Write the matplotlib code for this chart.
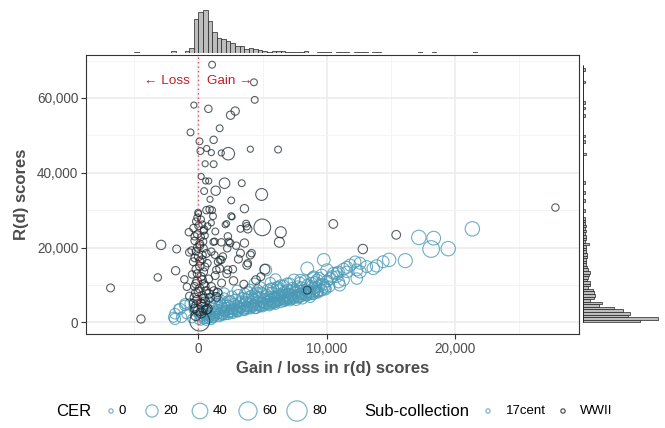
import numpy as np
import matplotlib
matplotlib.use("Agg")
import matplotlib.pyplot as plt
from matplotlib.ticker import FuncFormatter, MultipleLocator

plt.rcParams['font.family'] = ['Liberation Sans', 'DejaVu Sans']

# ---------------- data ----------------
# WWII points: gain/loss, R(d), CER
wwii_x = [1060, 4320, 4380, -360, 770, 2500, 2860, 1650, -620, 80, 1180, 640, 150, 1000, 2320,
          1780, 4040, 6200, 520, 1180, 210, 560, 800, 2030, 3370, 440, 1340, 4920, 900, 2550,
          3580, 0, 620, 870, 1060, 2620, 1130, 1000, 2080, 2190, 2550, -390, -750, 700, 3270,
          3760, 3840, 4970, 6410, 6300, 10500, 15400, -2910, -1700, -720, -540, 360, 1160, 1310, 2290,
          2370, 2930, 3580, 4140, 3780, 5170, 4860, -1780, -3170, -6850, -4480, 1670, 1390, 2730, 3530,
          4480, 8470, 12800, 27800,
          -200, 300, -100, 200, 500, -300, 100, 400, -200, 600, 0, 300, -400, 700, 100,
          -200, 400, -500, 200, 800, -100, 400, -300, 100, 600, -200, 300, 900, -100, 500,
          -400, 200, 1000, 1300, 1500, 1800, 2200, -900, -700, -1100,
          -30, 3710, 440, 1260, 2470, 1780, 2240, 3270, 4040, 3110, 1900, 1780, 1000, 1260, 1520,
          1650, 2290, 2680, 3840, 800, 1200, 600, 1400, -300, 300, 100,
          -100, 200, 0, 400, -300, 100, -100, 300, -300, 100, 500, -100, 300, -200, 500,
          0, 400, -300, 200, 0, 700, -200, 100]
wwii_y = [68900, 64200, 59500, 58100, 57100, 55400, 56500, 51900, 50800, 48400, 48800, 46500, 45800, 45400, 45100,
          45300, 46300, 46200, 42400, 42300, 39000, 37800, 37800, 37200, 37200, 35100, 35200, 34200, 32900, 32600,
          30400, 29100, 30000, 30200, 30000, 28200, 28400, 26600, 26100, 26400, 28400, 25200, 24100, 25700, 25000,
          25700, 25000, 25400, 24100, 21400, 26300, 23400, 20700, 19600, 18700, 19200, 21600, 21500, 24300, 23000,
          21600, 20500, 21200, 18500, 15300, 14200, 12200, 13800, 12000, 9200, 900, 16700, 14000, 11100, 10200,
          11300, 8600, 19600, 30700,
          27000, 26200, 23500, 22800, 23200, 21800, 20500, 19800, 19000, 18400, 17600, 16800, 16200, 15800, 15000,
          14200, 13500, 12800, 12200, 11600, 11000, 10300, 9600, 9000, 8400, 7800, 7200, 6600, 6000, 5500,
          5000, 2500, 9500, 12500, 8000, 10500, 13000, 9500, 7000, 11500,
          29300, 26400, 24800, 21600, 21200, 21400, 19800, 18500, 18000, 16900, 17600, 16700, 18900, 18000, 16200,
          14400, 14000, 14200, 15800, 7600, 8400, 3400, 6800, 3600, 4000, 4000,
          28000, 27500, 25800, 24500, 23000, 21000, 20000, 18000, 17200, 16400, 14800, 13000, 11300, 10300, 9700,
          8200, 6400, 6600, 4800, 3200, 3600, 1800, 300]
wwii_cer = [2, 2, 2, 1, 3, 5, 5, 2, 2, 2, 3, 1, 2, 1, 21,
            1, 1, 2, 1, 2, 1, 1, 1, 12, 2, 2, 8, 18, 1, 2,
            5, 1, 3, 3, 2, 1, 2, 1, 1, 1, 2, 3, 3, 2, 2,
            3, 5, 48, 14, 10, 6, 6, 8, 4, 3, 3, 3, 2, 2, 3,
            2, 3, 5, 3, 5, 10, 4, 5, 3, 4, 5, 3, 3, 5, 4,
            6, 4, 8, 3,
            2, 2, 3, 2, 2, 3, 4, 3, 3, 4, 5, 3, 4, 3, 5,
            4, 4, 3, 5, 4, 6, 5, 4, 6, 5, 7, 5, 6, 6, 8,
            5, 10, 5, 4, 5, 4, 4, 3, 4, 3,
            2, 2, 3, 2, 3, 3, 3, 4, 4, 4, 3, 3, 3, 2, 3,
            4, 4, 3, 3, 6, 5, 8, 6, 6, 10, 48,
            2, 2, 3, 2, 3, 4, 3, 4, 3, 4, 4, 4, 5, 5, 5,
            6, 6, 7, 8, 9, 8, 10, 75]

# 17cent points
c17_x = [-1950, -1830, -1440, -1060, -670, -1310, -930, -500, -300, -1570, -1830, -290, -1060,
         200, 400, 600, 800, 1000, 1200, 300, 600, 900, 1300, 1600, 1900, 200, 700, 1100, 1500,
         2000, 2300, 2600, 400, 900, 1400, 1800, 2200, 2700, 3000, 600, 1200, 1700, 2300, 2800,
         3200, 3500,
         3800, 4100, 4400, 4700, 5000, 5300, 5600, 5900, 3300, 3700, 4200, 4600, 5100, 5500, 5900,
         2600, 3100, 3600, 4100, 4500, 5000, 5400, 5800, 4000, 4800, 3000, 2000, 1500,
         6200, 6500, 6800, 7100, 7400, 7700, 8000, 8300, 8700, 9000, 9300, 9600, 6300, 6700, 7000,
         7300, 7600, 8000, 8400, 8800, 9200, 9700, 6100, 6600, 7100, 7440, 7900, 8300, 8470, 8900,
         9240, 9600, 10010, 10270, 6410, 5640, 4610, 3840, 5250, 4350, 6000, 5600, 7950, 8980, 6930,
         6160, 9760,
         10400, 10520, 10780, 10780, 10910, 10910, 11300, 11300, 11560, 11560, 11810, 12200, 12330, 12330,
         12580, 12580, 13100, 13610, 13870, 10200, 11000, 9900, 14380,
         14850, 16110, 17160, 18120, 18320, 19450, 21330,
         0, 100, 500, 800, 1000, 300, 0, -100, 500, 1000,
         1100, 1300, 1400, 1500, 1600, 1700, 1800, 1900, 2000, 2000,
         2100, 2200, 2300, 2400, 2500, 2600, 2700, 2800, 2900, 3000,
         3100, 3200, 3300, 3400, 3500, 3600, 3700, 3800, 3900, 4000,
         4100, 4200, 4300, 4400, 4500, 4600, 4700, 4800, 4900, 5000,
         5100, 5200, 5300, 5400, 5500, 5600, 5700, 5800, 5900, 6000,
         6100, 6200, 6300, 6400, 6500, 6600, 6700, 6800, 6900, 7000,
         7100, 7200, 7300, 7400, 7500, 7600, 7700, 7800, 7900, 8000,
         8100, 8200, 8400, 8500, 8600, 8700, 8800, 8900, 9000, 9100,
         9300, 9500, 9800, 10000, 9400, 9900,
         600, 1200, 1800, 2400, 3000, 3600, 4200, 4800, 5400, 6000, 6600, 7200, 7800, 8400, 9000,
         900, 1500, 2100, 2700, 3300, 3900, 4500, 5100, 5700, 6300, 6900, 7500, 8100, 8700, 9300,
         700, 1300, 1900, 2500, 3100, 3700, 4300, 4900, 5500, 6100, 6700, 7300, 7900, 8500, 9100]
c17_y = [1350, 2300, 3600, 4500, 5000, 1350, 2200, 1000, 3000, 3600, 900, 4000, 5000,
         200, 600, 300, 900, 500, 1200, 1500, 2200, 1800, 2500, 1400, 2000, 3000, 3500, 4000, 3400,
         3000, 2000, 2600, 4800, 5300, 5000, 4500, 4000, 3600, 2800, 6200, 6500, 6000, 5600, 5000,
         4300, 3300,
         3600, 4300, 3800, 4600, 4200, 5000, 4700, 5400, 5600, 6200, 5600, 6400, 6000, 6800, 7000,
         7000, 7300, 7700, 7200, 8000, 7800, 8600, 9000, 8800, 9400, 8600, 7800, 7600,
         5800, 6500, 6000, 6800, 6300, 7200, 6900, 7600, 7400, 8200, 7900, 8600, 7600, 8200, 7700,
         8700, 8300, 9300, 8800, 9700, 9400, 10100, 9300, 9900, 10300, 11300, 10600, 11100, 14400, 12000,
         11300, 12700, 14000, 11700, 9900, 9000, 8600, 8100, 14000, 10400, 11500, 10600, 11300, 12200, 10400,
         9500, 16700,
         12200, 13100, 12200, 13100, 10800, 13500, 11300, 14200, 13500, 14700, 15300, 16200, 11700, 14000,
         13500, 15800, 14900, 14400, 15100, 9600, 9900, 9200, 16200,
         16700, 16500, 22700, 19600, 22500, 19700, 25000,
         500, 1200, 1500, 2600, 3200, 2400, 2000, 3500, 3800, 2000,
         1000, 1700, 3000, 4200, 2300, 5200, 1600, 3800, 4800, 6500,
         1900, 3200, 4600, 2600, 5800, 3600, 2300, 4400, 6200, 3400,
         2700, 5200, 3900, 6600, 4700, 3100, 5400, 4200, 6800, 3500,
         5100, 6400, 4400, 7300, 3700, 5500, 6900, 4100, 8000, 5300,
         4500, 6300, 7400, 5600, 4400, 6100, 8000, 5000, 6600, 4800,
         5500, 7000, 8600, 5300, 7400, 6200, 5600, 7200, 8600, 6200,
         5800, 7500, 9200, 6600, 8000, 5900, 9600, 6500, 8400, 7600,
         6300, 8700, 7200, 10000, 8000, 6700, 10500, 7500, 9100, 10700,
         8400, 10200, 9500, 11000, 11800, 8800,
         800, 1500, 2000, 2400, 3000, 3500, 3900, 4400, 4900, 5300, 5700, 6200, 6700, 7100, 7600,
         1300, 2100, 2700, 3200, 3700, 4100, 4600, 5000, 5500, 6000, 6400, 6900, 7400, 7900, 8200,
         1800, 2400, 2900, 3400, 3900, 4400, 4800, 5300, 5800, 6300, 6800, 7200, 7700, 8200, 8600]
c17_cer = [10, 12, 14, 12, 10, 12, 8, 6, 10, 8, 14, 10, 10,
           3, 4, 5, 6, 5, 8, 6, 8, 6, 10, 8, 8, 8, 10, 12, 10,
           12, 8, 10, 10, 12, 14, 12, 10, 12, 10, 12, 14, 12, 14, 12,
           10, 12,
           10, 12, 14, 10, 12, 14, 10, 12, 12, 14, 12, 14, 12, 14, 10,
           12, 14, 12, 10, 14, 12, 16, 14, 12, 14, 10, 12, 10,
           12, 14, 12, 16, 12, 14, 12, 16, 12, 14, 12, 16, 14, 16, 12,
           14, 12, 16, 14, 14, 12, 16, 14, 12, 16, 18, 14, 16, 22, 14,
           18, 16, 20, 18, 14, 14, 12, 12, 16, 12, 14, 12, 16, 16, 14,
           14, 22,
           18, 18, 16, 18, 18, 16, 16, 18, 16, 18, 18, 16, 16, 18,
           20, 18, 18, 20, 20, 14, 16, 14, 18,
           26, 30, 32, 48, 28, 32, 32,
           4, 5, 5, 7, 8, 6, 6, 8, 8, 6,
           6, 7, 8, 9, 8, 10, 7, 9, 10, 11,
           7, 9, 10, 8, 11, 9, 8, 10, 11, 9,
           8, 10, 9, 11, 10, 9, 11, 10, 12, 9,
           11, 12, 10, 12, 10, 11, 12, 10, 12, 11,
           10, 12, 13, 11, 10, 12, 13, 11, 12, 10,
           11, 12, 13, 11, 13, 12, 11, 13, 14, 12,
           12, 13, 14, 12, 14, 12, 14, 12, 14, 13,
           12, 14, 13, 15, 14, 12, 15, 13, 14, 15,
           14, 15, 14, 16, 16, 14,
           5, 6, 7, 8, 8, 9, 9, 10, 10, 11, 11, 12, 12, 12, 13,
           6, 7, 8, 8, 9, 9, 10, 10, 11, 11, 12, 12, 12, 13, 13,
           6, 7, 8, 8, 9, 9, 10, 10, 11, 11, 12, 12, 12, 13, 13]

# marginal histogram counts
top_start, top_width = -7120, 356
top_counts = [1, 1, 1, 1, 1, 1, 2, 0, 0, 0,
              1, 1, 0, 0, 6, 1, 1, 7, 15, 99,
              120, 127, 94, 63, 45, 40, 36, 29, 21, 21,
              12, 14, 12, 10, 5, 4, 6, 7, 5, 2,
              3, 2, 3, 6, 1, 1, 2, 2, 2, 1,
              2, 2, 2, 1, 3, 3, 2, 1, 2, 2,
              1, 1, 1, 1, 1, 1, 0, 1, 2, 0,
              1, 3, 0, 0, 1, 1, 0, 0, 0, 1,
              2, 0, 0, 0, 0, 0, 0, 0, 0, 0,
              0, 0, 0, 0, 0, 0, 0, 1, 0, 0]
right_start, right_width = 0, 687
right_counts = [170, 225, 135, 140, 120, 93, 47, 58, 20, 33,
                35, 32, 30, 15, 22, 20, 13, 15, 18, 22,
                15, 12, 10, 10, 8, 13, 12, 10, 8, 10,
                19, 7, 10, 8, 7, 9, 7, 8, 5, 5,
                5, 0, 0, 5, 0, 0, 0, 5, 0, 0,
                5, 0, 0, 0, 5, 0, 0, 0, 0, 0,
                0, 0, 0, 0, 0, 8, 0, 0, 0, 0,
                5, 0, 5, 0, 0, 0, 0, 0, 0, 0,
                5, 0, 0, 5, 0, 5, 0, 0, 0, 0,
                0, 0, 0, 5, 0, 0, 0, 0, 5, 0]

cer_legend = [0, 20, 40, 60, 80]
groups = ['17cent', 'WWII']

# ---------------- styling ----------------
BLUE = '#4A9AB7'
DARK = '#1E2B31'
GRID = '#EBEBEB'
TXT = '#4D4D4D'
CER_MAX = 145.0
DPI = 100


def cer_to_d_px(c):
    c = np.asarray(c, dtype=float)
    return 4.3 * (1 + 5 * np.sqrt(np.clip(c, 0, None) / CER_MAX))


def cer_to_s(c):
    d_pt = cer_to_d_px(c) * 72.0 / DPI
    return d_pt ** 2


W, H = 665, 428
fig = plt.figure(figsize=(W / DPI, H / DPI), dpi=DPI)


def px_rect(l, t, r, b):
    return [l / W, 1 - b / H, (r - l) / W, (b - t) / H]


ax = fig.add_axes(px_rect(86, 55, 579.3, 334))
XL = (-8760, 29660)
YL = (-3130, 71500)
ax.set_xlim(*XL)
ax.set_ylim(*YL)
ax.set_facecolor('white')
ax.xaxis.set_major_locator(MultipleLocator(10000))
ax.xaxis.set_minor_locator(MultipleLocator(5000))
ax.yaxis.set_major_locator(MultipleLocator(20000))
ax.yaxis.set_minor_locator(MultipleLocator(10000))
ax.grid(True, which='major', color=GRID, linewidth=1.1, zorder=0)
ax.grid(True, which='minor', color='#F3F3F3', linewidth=0.6, zorder=0)
ax.set_axisbelow(True)
fmt = FuncFormatter(lambda v, p: f"{int(v):,}")
ax.xaxis.set_major_formatter(fmt)
ax.yaxis.set_major_formatter(fmt)
ax.tick_params(which='minor', length=0)
ax.tick_params(which='major', length=3.5, width=0.8, color='#333333',
               labelsize=9.8, labelcolor=TXT, pad=2)
for sp in ax.spines.values():
    sp.set_color('#333333')
    sp.set_linewidth(0.8)
ax.set_xlabel('Gain / loss in r(d) scores', fontsize=12, fontweight='bold', color=TXT, labelpad=4)
ax.set_ylabel('R(d) scores', fontsize=12, fontweight='bold', color=TXT, labelpad=6)

ax.scatter(c17_x, c17_y, s=cer_to_s(c17_cer), facecolors='none', edgecolors=BLUE,
           linewidths=0.8, alpha=0.8, zorder=3)
ax.scatter(wwii_x, wwii_y, s=cer_to_s(wwii_cer), facecolors='none', edgecolors=DARK,
           linewidths=0.8, alpha=0.75, zorder=4)

ax.axvline(0, color='#E0505A', linestyle=(0, (1, 2.2)), linewidth=1.0, zorder=5)
ax.text(-700, 64600, '\u2190 Loss', ha='right', va='center', color='#C41E24', fontsize=9.7, zorder=6,
        family=['Liberation Sans', 'DejaVu Sans'])
ax.text(700, 64600, 'Gain \u2192', ha='left', va='center', color='#C41E24', fontsize=9.7, zorder=6,
        family=['Liberation Sans', 'DejaVu Sans'])

# top marginal histogram
axt = fig.add_axes(px_rect(86, 8, 579.3, 53))
axt.set_xlim(*XL)
axt.set_ylim(0, max(top_counts) / 0.955)
tx = [top_start + i * top_width for i in range(len(top_counts))]
axt.bar(tx, top_counts, width=top_width, align='edge', color='#BDBDBD', edgecolor='#222222',
        linewidth=0.5)
axt.hlines(0, tx[0], tx[-1] + top_width, color='#222222', linewidth=0.6)
axt.axis('off')

# right marginal histogram
axr = fig.add_axes(px_rect(583, 55, 660, 334))
axr.set_ylim(*YL)
axr.set_xlim(0, max(right_counts) * 77 / 75)
ry = [right_start + i * right_width for i in range(len(right_counts))]
axr.barh(ry, right_counts, height=right_width, align='edge', color='#BDBDBD', edgecolor='#222222',
         linewidth=0.5)
axr.vlines(0, ry[0], ry[-1] + right_width, color='#222222', linewidth=0.6)
axr.axis('off')

# legend (drawn in pixel coordinates)
lax = fig.add_axes([0, 0, 1, 1])
lax.set_xlim(0, W)
lax.set_ylim(H, 0)
lax.axis('off')
LY = 411
lax.text(56, LY, 'CER', fontsize=12, color='black', ha='left', va='center')
cer_x = [111, 152, 200, 248, 297]
for cx, c in zip(cer_x, cer_legend):
    lax.scatter([cx], [LY], s=cer_to_s(c), facecolors='none', edgecolors='#7FB7CB', linewidths=0.9)
    lax.text(cx + cer_to_d_px(c) / 2 + 5, LY, str(c), fontsize=9.5, color='black', ha='left', va='center')
lax.text(364, LY, 'Sub-collection', fontsize=12, color='black', ha='left', va='center')
lax.scatter([488], [LY], s=cer_to_s(0), facecolors='none', edgecolors='#7FB7CB', linewidths=0.9)
lax.text(506, LY, groups[0], fontsize=9.5, color='black', ha='left', va='center')
lax.scatter([563], [LY], s=cer_to_s(0), facecolors='none', edgecolors='#555555', linewidths=0.9)
lax.text(580, LY, groups[1], fontsize=9.5, color='black', ha='left', va='center')

fig.savefig('out.png', dpi=DPI)
